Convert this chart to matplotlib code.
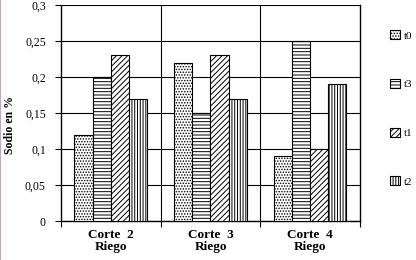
import numpy as np
import matplotlib
matplotlib.use("Agg")
import matplotlib.pyplot as plt
from matplotlib.lines import Line2D

categories = ["Corte  2\nRiego", "Corte  3\nRiego", "Corte  4\nRiego"]
series = ["t0", "t3", "t1", "t2"]
values = {
    "t0": [0.12, 0.22, 0.09],
    "t3": [0.20, 0.15, 0.25],
    "t1": [0.23, 0.23, 0.10],
    "t2": [0.17, 0.17, 0.19],
}
hatches = {"t0": "......", "t3": "-----", "t1": "//////", "t2": "||||||"}
yticks = [0, 0.05, 0.1, 0.15, 0.2, 0.25, 0.3]

plt.rcParams["font.family"] = ["Liberation Serif", "DejaVu Serif"]
plt.rcParams["hatch.linewidth"] = 0.7

fig = plt.figure(figsize=(4.16, 2.6), dpi=100)
ax = fig.add_axes([0.147, 0.15, 0.718, 0.831])

x = np.arange(len(categories))
width = 0.183
for i, s in enumerate(series):
    ax.bar(x + (i - 1.5) * width, values[s], width, color="white",
           edgecolor="black", linewidth=0.8, hatch=hatches[s], label=s, zorder=3)

ax.set_xlim(-0.5, 2.5)
ax.set_ylim(0, 0.3)
ax.set_yticks(yticks)
ax.set_yticklabels([("%g" % v).replace(".", ",") for v in yticks], fontsize=8.5)
ax.yaxis.grid(True, color="black", linewidth=0.8, zorder=0)
for b in [0.5, 1.5]:
    ax.axvline(b, color="black", linewidth=0.8, zorder=0)

ax.set_xticks(x)
ax.set_xticklabels(categories, fontsize=9.5, fontweight="bold", linespacing=1.0)
ax.set_xticks([-0.5, 0.5, 1.5, 2.5], minor=True)
ax.tick_params(axis="x", which="major", length=0, pad=6)
ax.tick_params(axis="x", which="minor", length=4, width=0.8, direction="out")
ax.tick_params(axis="y", length=4, width=0.8, direction="out", pad=7)
for sp in ax.spines.values():
    sp.set_linewidth(1.0)
ax.spines["top"].set_visible(False)

fig.text(0.024, 0.52, "Sodio en %", rotation=90, fontsize=8.5, fontweight="bold",
         ha="center", va="center")

fig.legend(loc="upper left", bbox_to_anchor=(0.928, 0.9), frameon=False,
           fontsize=8, handlelength=0.85, handleheight=0.85, handletextpad=0.4,
           labelspacing=3.45, borderaxespad=0)

fig.add_artist(Line2D([0.001, 0.001], [0, 1], color="#c8a0d0", linewidth=1.5,
                      transform=fig.transFigure))

fig.savefig("out.png", dpi=100)
